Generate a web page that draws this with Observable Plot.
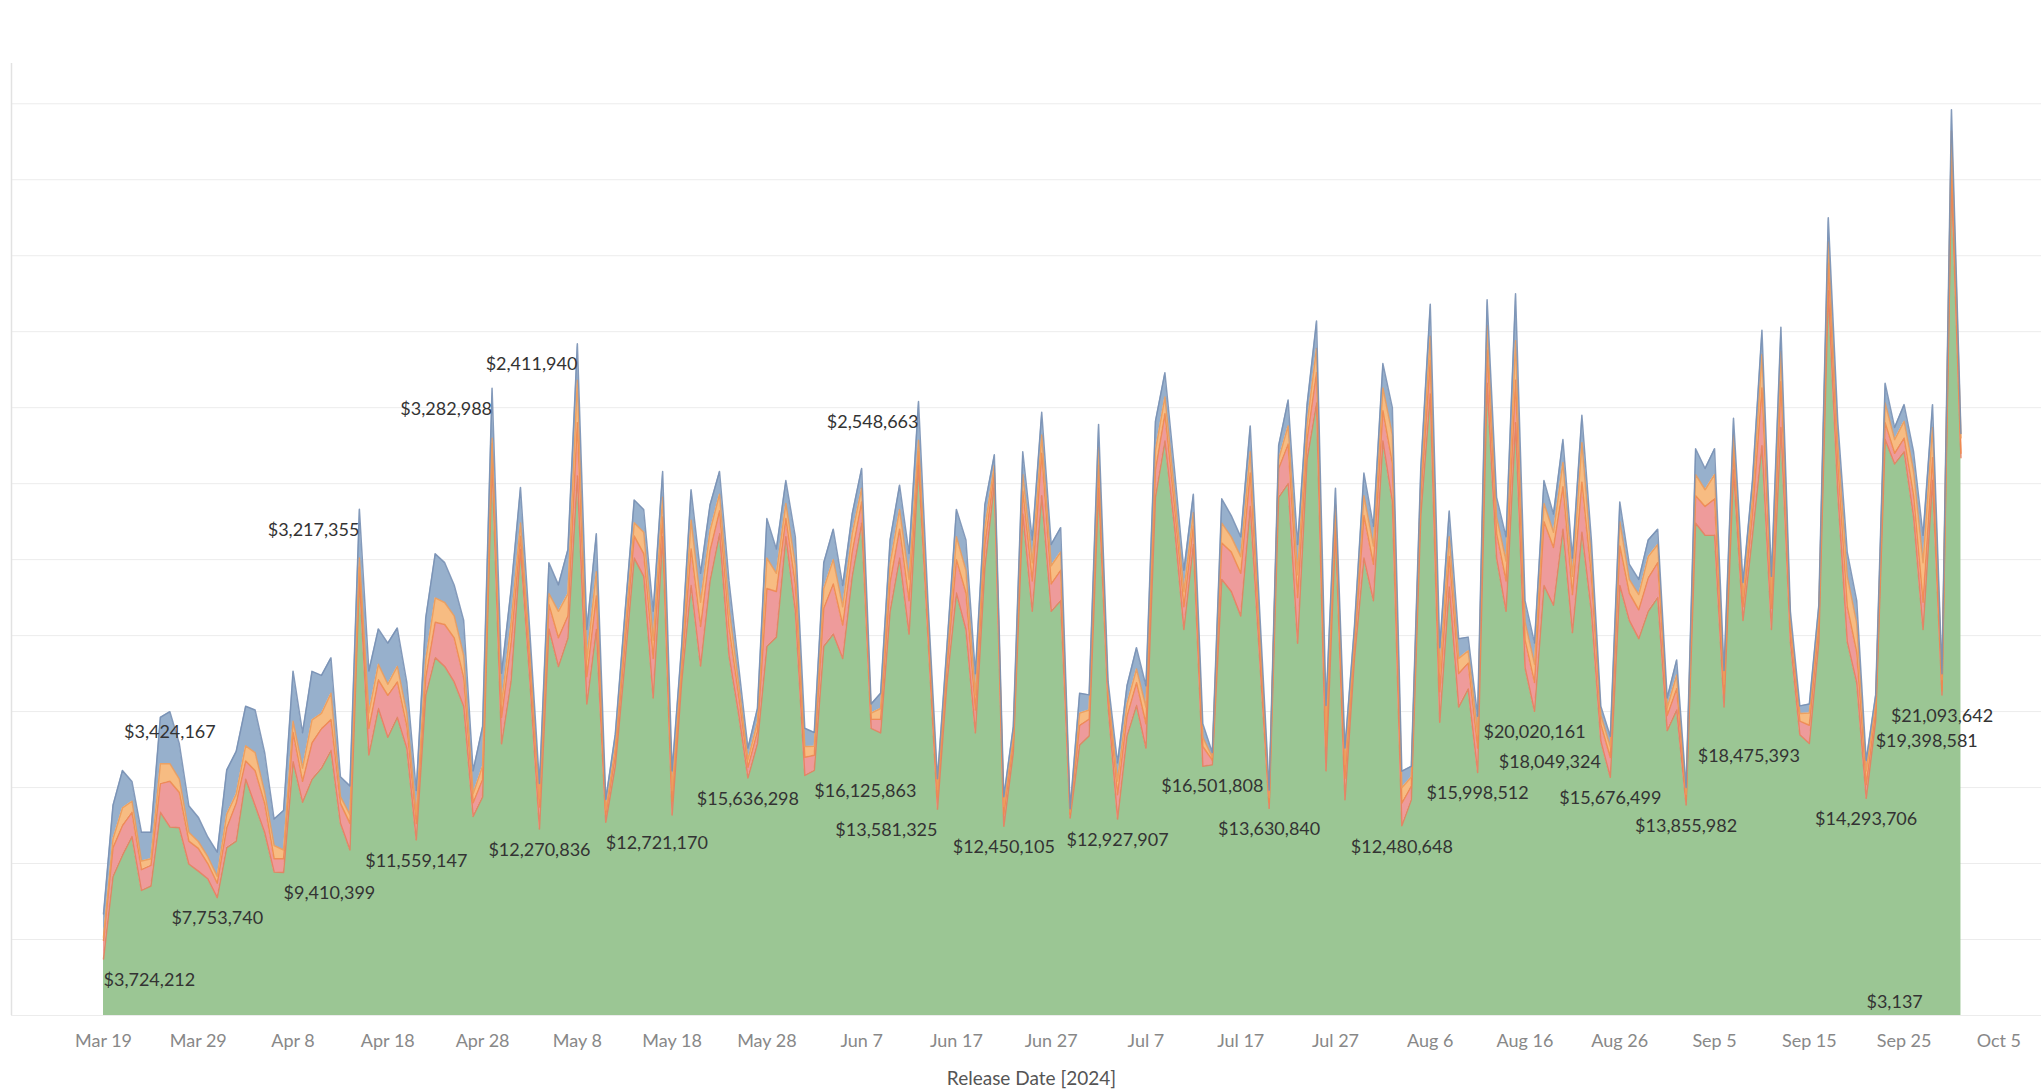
<!DOCTYPE html>
<html><head><meta charset="utf-8">
<script src="https://cdn.jsdelivr.net/npm/d3@7"></script>
<script src="https://cdn.jsdelivr.net/npm/@observablehq/plot@0.6"></script>
<style>html,body{margin:0;padding:0;background:#fff;} #chart svg{display:block}</style>
</head><body><div id="chart"></div>
<script>
// ---- data (values in millions of dollars, one value per release day) ----
const firstDay = "2024-03-19";
const seriesNames = ["Series 1", "Series 2", "Series 3", "Series 4"];
const seriesFill = ["#9bc694", "#ee9b9b", "#f7bc82", "#97b0cc"];
const seriesLine = ["#e5805f", "#ee8a4f", "#eb9c5c", "#7890b4"];

const green = [3.724212,9.15,10.55,11.77,8.23,8.52,13.37,12.41,12.35,9.97,
9.5,9.0,7.75374,11.05,11.48,15.55,13.8,12.06,9.45,9.410399,
16.7,14.04,15.55,16.28,17.44,12.65,10.9,28.9,17.15,20.2,
18.31,19.62,17.59,11.559147,21.08,23.55,22.97,21.95,20.35,13.1,
14.39,36.48,17.88,22.0,30.67,21.95,12.270836,25.44,22.97,24.85,
35.5,20.5,25.4,12.72117,16.4,23.1,30.1,28.9,20.9,31.5,
13.2,21.9,28.3,23.0,28.6,31.7,23.7,19.9,15.636298,17.9,
24.3,24.9,31.5,26.6,15.8,16.125863,24.3,25.1,23.5,28.9,
32.4,18.9,18.6,26.6,30.1,25.1,36.2,24.9,13.581325,21.9,
27.8,25.4,18.6,29.5,35.0,12.450105,17.3,33.0,26.6,34.2,
26.6,27.3,13.0,17.8,18.4,34.7,20.4,12.927907,18.4,20.4,
17.6,34.1,37.8,32.2,25.4,31.0,16.4,16.501808,28.7,27.9,
26.3,33.5,23.5,13.63084,34.1,35.0,24.5,36.6,40.3,16.1,
31.9,14.2,23.5,30.1,27.3,37.8,33.8,12.480648,14.2,32.9,
40.9,19.3,28.2,20.3,21.5,15.998512,41.6,30.1,26.6,39.0,
22.9,20.020161,28.3,27.0,32.0,25.2,31.8,26.6,18.049324,15.676499,
28.3,26.0,24.8,26.6,27.5,18.75,20.1,13.855982,32.4,31.6,
31.6,20.3,35.9,26.0,31.6,37.5,25.4,38.7,24.6,18.475393,
17.9,24.6,47.7,34.4,24.6,21.9,14.293706,19.398581,37.9,36.3,
37.1,32.8,25.4,35.2,21.093642,55.0,36.7];

const red = [1.22,1.9,1.95,1.6,1.37,1.36,1.89,3.0,2.33,1.51,
1.5,1.0,0.95,1.3,2.5,1.2,2.3,1.9,0.87,0.9,
1.93,1.37,2.4,2.6,2.03,1.31,1.74,0.6,1.74,1.89,
2.76,2.33,1.45,1.07,1.16,2.33,2.76,2.9,1.89,0.9,
1.16,1.16,1.74,2.5,0.87,1.16,1.45,1.6,1.89,1.45,
3.5,1.8,2.2,0.5,0.7,1.2,1.45,1.5,2.6,1.3,
0.9,0.8,2.4,2.6,2.0,1.5,1.8,1.2,0.7,0.8,
3.8,3.0,1.2,1.7,1.2,1.0,2.5,3.3,2.2,1.6,
1.4,0.6,0.9,1.9,1.9,2.2,0.9,0.9,0.8,1.0,
2.2,2.4,1.5,1.5,0.7,0.8,0.6,1.5,2.0,2.8,
1.8,2.0,0.25,1.3,1.1,1.5,0.6,1.6,1.3,1.5,
1.6,1.8,1.8,1.3,1.5,1.2,1.3,0.3,2.4,2.6,
2.8,2.2,1.2,0.4,1.9,2.6,3.0,1.3,2.0,1.6,
1.0,1.4,0.8,2.8,2.4,2.0,2.5,1.5,0.9,1.2,
2.2,2.0,2.0,2.2,1.7,1.6,2.2,1.6,2.0,2.8,
1.8,1.9,4.2,3.8,2.8,2.5,3.3,2.3,1.1,1.3,
2.6,1.8,1.9,2.2,2.3,1.0,1.4,0.4,1.8,1.9,
2.4,0.9,1.3,0.9,1.4,3.8,1.4,3.0,0.8,0.9,
1.2,1.0,1.8,1.9,2.3,2.0,0.9,0.6,1.1,0.7,
0.9,1.4,1.8,1.5,0.3,1.2,0.3];

const orange = [0.2,0.58,1.16,0.73,0.57,0.44,1.31,1.16,0.87,0.58,
0.45,0.45,0.45,0.9,0.6,1.0,1.2,0.73,0.87,0.58,
0.73,0.87,1.5,1.0,1.74,0.44,0.58,0.6,1.02,1.02,
0.73,1.02,0.87,0.58,1.16,1.6,1.45,1.45,1.45,0.6,
0.87,0.35,0.87,1.3,0.87,0.87,0.58,0.73,1.74,1.45,
2.8,1.1,1.6,0.3,0.5,0.8,0.87,1.4,1.2,1.3,
0.7,0.6,1.9,1.6,1.3,1.1,1.3,0.8,0.5,0.6,
2.0,1.2,1.0,1.3,0.7,0.6,1.3,1.6,1.2,1.2,
0.9,0.4,0.7,1.2,1.3,1.4,0.75,0.6,0.5,0.6,
1.5,1.5,1.0,1.1,0.5,0.5,0.4,1.1,1.2,1.2,
1.2,1.2,0.15,0.8,0.6,1.2,0.4,0.9,0.8,0.9,
1.1,1.3,1.1,1.0,1.0,0.9,0.6,0.2,1.3,1.0,
1.1,1.4,0.8,0.3,0.6,1.2,1.5,1.0,1.6,1.1,
0.7,0.9,0.5,1.3,1.2,1.5,1.9,1.0,0.6,0.8,
1.6,1.3,1.3,1.0,0.8,0.9,1.6,1.1,1.3,2.6,
1.2,1.2,1.2,1.0,1.6,1.2,2.6,1.2,0.6,0.7,
1.6,0.9,1.0,1.4,1.2,0.5,0.9,0.3,1.4,1.1,
1.6,0.6,1.0,0.7,1.0,2.2,1.0,2.0,0.6,0.5,
0.8,0.7,1.4,1.4,2.0,1.9,0.9,0.5,1.3,0.9,
1.1,1.6,2.6,2.0,0.7,2.0,1.0];

const blue = [1.54,2.2,2.47,1.3,1.89,1.74,3.05,3.424167,2.33,1.75,
1.6,1.3,1.6,2.9,2.8,2.6,2.8,2.62,1.74,2.6,
3.3,2.33,3.2,2.5,2.33,1.31,1.89,3.217355,2.76,2.33,
2.7,2.53,2.03,1.6,2.76,2.9,2.62,2.03,2.33,1.5,
2.6,3.282988,2.03,2.2,2.33,1.1,0.97,2.03,1.74,2.9,
2.41194,2.0,2.5,0.7,0.9,1.2,1.5,1.5,1.9,1.7,
1.3,1.0,2.0,1.9,1.7,1.5,1.8,1.2,0.76,0.9,
2.6,1.6,1.5,1.9,1.2,0.9,1.7,2.0,1.4,1.3,
1.3,0.6,1.0,1.6,1.6,1.7,2.548663,0.8,0.7,0.8,
1.8,2.0,1.4,1.5,0.7,0.65,0.7,1.5,1.5,1.5,
1.4,1.6,0.2,1.3,1.0,1.5,0.6,1.2,1.2,1.4,
1.4,1.9,1.6,1.5,1.4,1.2,0.9,0.3,1.6,1.4,
1.3,1.7,1.1,0.5,0.9,1.7,2.0,1.3,1.8,1.6,
1.1,1.1,0.8,1.5,1.3,1.6,1.8,1.1,0.7,1.1,
2.1,1.6,1.7,1.3,0.9,1.2,1.7,1.3,1.6,3.1,
1.4,1.4,1.5,1.2,1.5,1.2,1.8,1.2,0.6,0.7,
1.3,1.0,1.0,1.1,1.0,0.65,1.0,0.45,1.7,1.4,
1.7,0.9,1.1,0.9,1.2,1.6,1.1,1.6,0.6,0.5,
0.6,0.7,1.6,1.4,1.6,1.5,0.7,0.6,1.3,0.8,
1.1,1.3,1.8,1.5,0.4,1.4,0.3];

const tickDates = ["2024-03-19","2024-03-29","2024-04-08","2024-04-18","2024-04-28","2024-05-08",
"2024-05-18","2024-05-28","2024-06-07","2024-06-17","2024-06-27","2024-07-07","2024-07-17",
"2024-07-27","2024-08-06","2024-08-16","2024-08-26","2024-09-05","2024-09-15","2024-09-25","2024-10-05"];
const gridValues = [0,5,10,15,20,25,30,35,40,45,50,55,60];

// value labels: day index, layer whose top the label hangs from, text, alignment
const labels = [
  {day: 0, layer: 0, text: "$3,724,212", anchor: "start"},
  {day: 12, layer: 0, text: "$7,753,740", anchor: "middle"},
  {day: 19, layer: 0, text: "$9,410,399", anchor: "start"},
  {day: 33, layer: 0, text: "$11,559,147", anchor: "middle"},
  {day: 46, layer: 0, text: "$12,270,836", anchor: "middle"},
  {day: 53, layer: 0, text: "$12,721,170", anchor: "start"},
  {day: 68, layer: 0, text: "$15,636,298", anchor: "middle"},
  {day: 75, layer: 0, text: "$16,125,863", anchor: "start"},
  {day: 88, layer: 0, text: "$13,581,325", anchor: "end"},
  {day: 95, layer: 0, text: "$12,450,105", anchor: "middle"},
  {day: 107, layer: 0, text: "$12,927,907", anchor: "middle"},
  {day: 117, layer: 0, text: "$16,501,808", anchor: "middle"},
  {day: 123, layer: 0, text: "$13,630,840", anchor: "middle"},
  {day: 137, layer: 0, text: "$12,480,648", anchor: "middle"},
  {day: 145, layer: 0, text: "$15,998,512", anchor: "middle"},
  {day: 151, layer: 0, text: "$20,020,161", anchor: "middle"},
  {day: 158, layer: 0, text: "$18,049,324", anchor: "end"},
  {day: 159, layer: 0, text: "$15,676,499", anchor: "middle"},
  {day: 167, layer: 0, text: "$13,855,982", anchor: "middle"},
  {day: 179, layer: 0, text: "$18,475,393", anchor: "end"},
  {day: 186, layer: 0, text: "$14,293,706", anchor: "middle"},
  {day: 187, layer: 0, text: "$19,398,581", anchor: "start"},
  {day: 194, layer: 0, text: "$21,093,642", anchor: "middle"},
  {day: 7, layer: 3, text: "$3,424,167", anchor: "middle"},
  {day: 27, layer: 3, text: "$3,217,355", anchor: "end"},
  {day: 41, layer: 3, text: "$3,282,988", anchor: "end"},
  {day: 50, layer: 3, text: "$2,411,940", anchor: "end"},
  {day: 86, layer: 3, text: "$2,548,663", anchor: "end"},
  {day: 189, layer: -1, text: "$3,137", anchor: "middle"}
];

// ---- build stacked layers ----
const DAY = 864e5;
const t0 = Date.parse(firstDay + "T00:00:00Z");
const dates = green.map((_, i) => new Date(t0 + i * DAY));
const layerValues = [green, red, orange, blue];
let base = green.map(() => 0);
const stacked = layerValues.map((vals, k) => {
  const rows = vals.map((v, i) => ({date: dates[i], series: seriesNames[k], y1: base[i], y2: base[i] + v}));
  base = rows.map(r => r.y2);
  return rows;
});
const labelRows = labels.map(l => ({
  ...l,
  date: dates[l.day],
  y: l.layer < 0 ? 0 : stacked[l.layer][l.day].y2,
  dy: l.layer < 0 ? -13 : 21
}));

const xDomain = [new Date(t0 - 9.71 * DAY), new Date(t0 + 204.5 * DAY)];

const marks = [
  Plot.ruleY(gridValues, {stroke: "#ececec", strokeWidth: 1}),
  Plot.ruleX([xDomain[0]], {stroke: "#e2e2e2", strokeWidth: 1.5}),
  ...stacked.map((rows, k) => Plot.area(rows, {x1: "date", y1: "y1", y2: "y2", fill: seriesFill[k]})),
  ...stacked.map((rows, k) => Plot.line(rows, {x: "date", y: "y2", stroke: seriesLine[k], strokeWidth: 1.5, strokeOpacity: 0.9})),
  ...["start", "middle", "end"].map(a => Plot.text(labelRows.filter(l => l.anchor === a && l.layer >= 0), {
    x: "date", y: "y", text: "text", textAnchor: a, dy: 21, fill: "#333", fontSize: 18
  })),
  Plot.text(labelRows.filter(l => l.layer < 0), {x: "date", y: "y", text: "text", dy: -13, fill: "#333", fontSize: 18}),
  Plot.text(["Release Date [2024]"], {frameAnchor: "bottom", lineAnchor: "middle", dy: 63, dx: 5, fill: "#555", fontSize: 19})
];

const chart = Plot.plot({
  width: 2041, height: 1089,
  marginTop: 63, marginBottom: 74, marginLeft: 11, marginRight: 0,
  style: {fontFamily: "Lato, 'Open Sans', sans-serif", fontSize: "18px", color: "#888", background: "#fff"},
  x: {type: "utc", domain: xDomain, ticks: tickDates.map(s => new Date(s + "T00:00:00Z")),
      tickFormat: d3.utcFormat("%b %-d"), tickSize: 0, tickPadding: 19, label: null},
  y: {domain: [0, 62.65], axis: null},
  marks
});
document.getElementById("chart").appendChild(chart);
</script></body></html>
